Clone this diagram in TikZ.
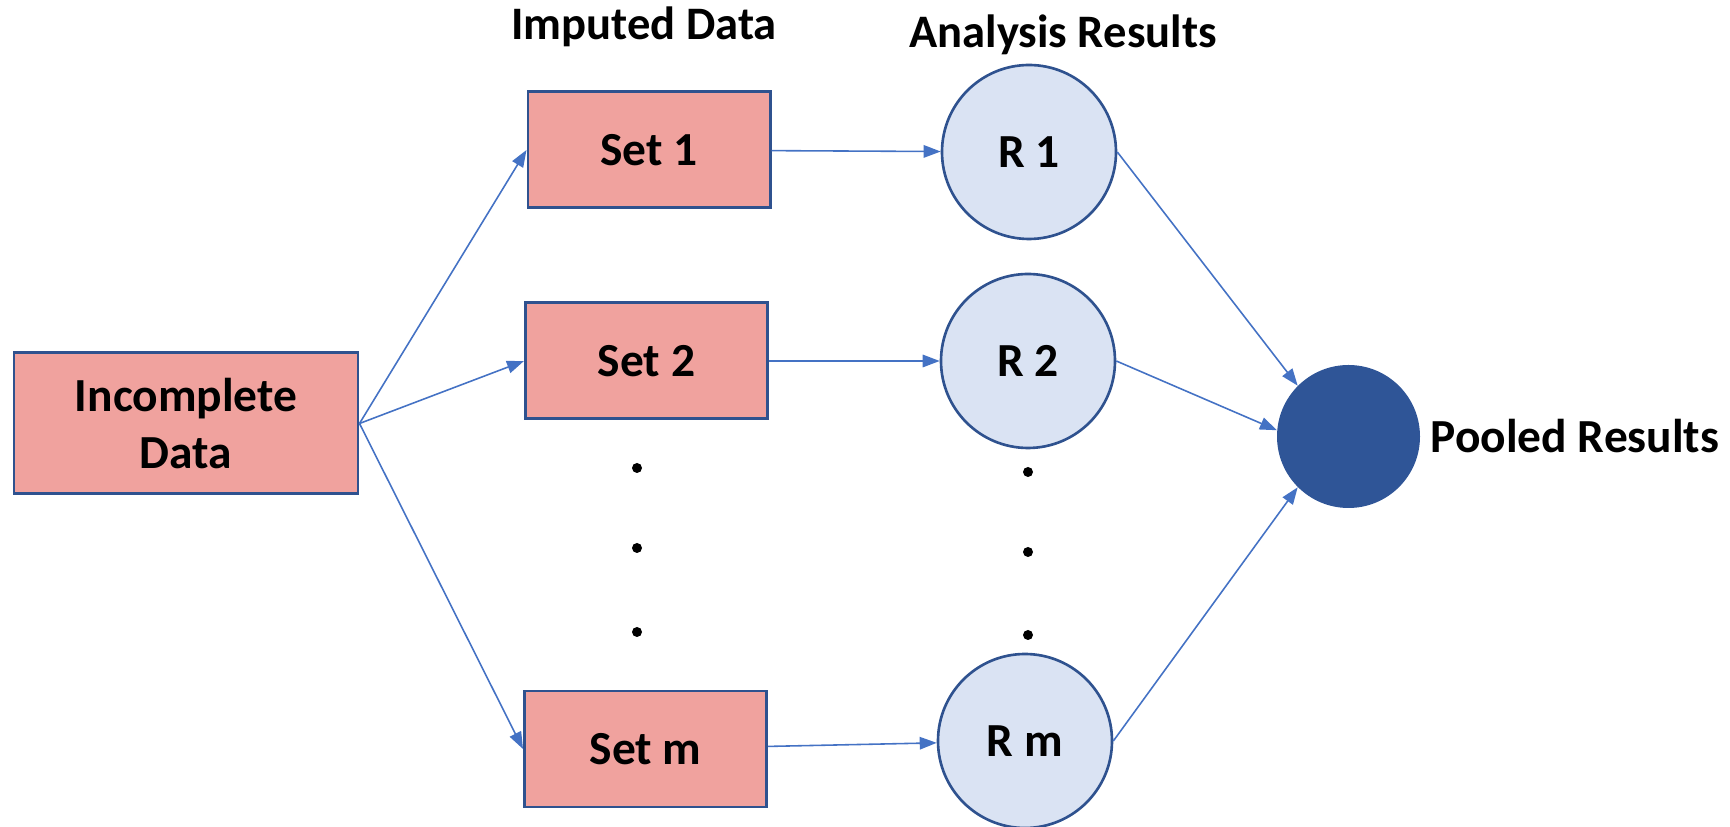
\documentclass[tikz,border=0pt]{standalone}
\usepackage{fontspec}
\setmainfont{Carlito}
\usetikzlibrary{arrows.meta, positioning}
\definecolor{setred}{RGB}{240, 162, 158}
\definecolor{edgeblue}{RGB}{47, 82, 143}
\definecolor{resultbg}{RGB}{218, 227, 243}
\definecolor{pooledblue}{RGB}{47, 85, 151}
\definecolor{arrowblue}{RGB}{68, 114, 196}

\begin{document}
\begin{tikzpicture}[
    databox/.style={draw=edgeblue, line width=1.7pt, fill=setred, minimum width=4.84cm, minimum height=2.32cm, font=\fontsize{27}{32}\selectfont\bfseries},
    result/.style={circle, draw=edgeblue, line width=1.5pt, fill=resultbg, minimum size=3.48cm, inner sep=0pt, font=\fontsize{27}{32}\selectfont\bfseries},
    flow/.style={arrowblue, line width=0.9pt, -{Triangle[length=0.34cm, width=0.25cm]}},
    heading/.style={font=\fontsize{26.5}{31}\selectfont\bfseries, anchor=base}
]
    % Canvas
    \useasboundingbox (0, 0) rectangle (34.6, 16.54);

    % Column headings
    \node[heading] (imputedhead) at (12.88, 15.74) {Imputed Data};
    \node[heading] (analysishead) at (21.26, 15.58) {Analysis Results};

    % Source data
    \node[databox, minimum width=6.88cm, minimum height=2.82cm, align=center] (incomplete) at (3.72, 8.07) {Incomplete\\Data};

    % Imputed sets
    \node[databox] (set1) at (12.98, 13.54) {Set 1};
    \node[databox] (set2) at (12.93, 9.32) {Set 2};
    \node[databox] (setm) at (12.91, 1.56) {Set m};

    % Analysis results
    \node[result] (r1) at (20.58, 13.50) {R 1};
    \node[result] (r2) at (20.56, 9.32) {R 2};
    \node[result] (rm) at (20.50, 1.72) {R m};

    % Pooled results
    \node[circle, fill=pooledblue, minimum size=2.86cm] (pooled) at (26.97, 7.81) {};
    \node[right=0.2cm of pooled, inner sep=0pt, font=\fontsize{27}{32}\selectfont\bfseries] (pooledlabel) {Pooled Results};

    % Ellipsis dots
    \foreach \y in {7.18, 5.58, 3.9} \fill (12.74, \y) circle (0.1);
    \foreach \y in {7.1, 5.5, 3.84} \fill (20.56, \y) circle (0.1);

    % Imputation
    \draw[flow] (incomplete.east) -- (set1.west);
    \draw[flow] (incomplete.east) -- (set2.west);
    \draw[flow] (incomplete.east) -- (setm.west);

    % Analysis
    \draw[flow] (set1) -- (r1);
    \draw[flow] (set2) -- (r2);
    \draw[flow] (setm) -- (rm);

    % Pooling
    \draw[flow] (r1.east) -- (pooled.135);
    \draw[flow] (r2.east) -- (pooled.175);
    \draw[flow] (rm.east) -- (pooled.225);
\end{tikzpicture}
\end{document}
